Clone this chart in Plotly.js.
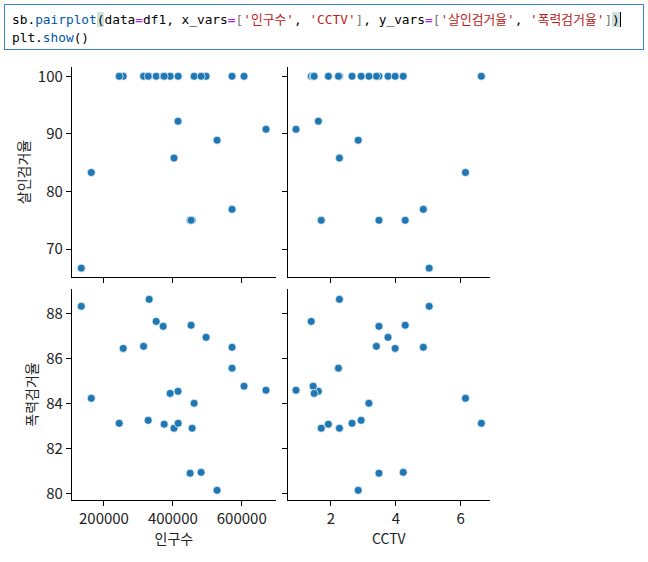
<!DOCTYPE html>
<html>
<head>
<meta charset="utf-8">
<script src="https://cdn.plot.ly/plotly-3.0.1.min.js"></script>
<style>
body{margin:0;padding:0;background:#fff;}
#wrap{position:relative;width:648px;height:562px;}
#plot{position:absolute;left:0;top:0;width:648px;height:562px;}
#code{position:absolute;left:4px;top:4px;width:640px;height:46px;border:1px solid #3b82d0;box-sizing:border-box;
 font-family:"DejaVu Sans Mono","Noto Sans CJK KR",monospace;font-size:12.8px;line-height:17.5px;padding:6px 0 0 7px;color:#000;white-space:pre;background:#fff;}
.fn{color:#0055aa;} .op{color:#aa22ff;} .st{color:#ba2121;} .br{color:#777;}
.hl{background:#cfe2df;} .cur{border-right:1.5px solid #000;}
</style>
</head>
<body>
<div id="wrap">
<div id="plot"></div>
<div id="code"><div>sb.<span class="fn">pairplot</span><span class="hl">(</span>data<span class="op">=</span>df1, x_vars<span class="op">=</span><span class="br">[</span><span class="st">'인구수'</span>, <span class="st">'CCTV'</span><span class="br">]</span>, y_vars<span class="op">=</span><span class="br">[</span><span class="st">'살인검거율'</span>, <span class="st">'폭력검거율'</span><span class="br">]</span><span class="hl cur">)</span></div><div>plt.<span class="fn">show</span>()</div></div>
</div>
<script>
// data (one entry per district)
const population = [134200,163200,670400,528400,415000,403300,571900,455900,450100,453000,
  331300,351600,371900,496500,255900,315100,571900,606700,392200,461700,244300,328400,374800,415400,482000];
const cctv = [5.03,6.15,0.92,2.84,1.61,2.26,4.85,1.70,3.48,4.29,
  2.26,1.39,3.48,3.76,3.98,3.40,2.23,1.45,1.48,3.17,2.65,2.93,1.92,6.64,4.23];
const murderRate = [66.7,83.3,90.8,88.9,92.2,85.8,76.9,75.0,75.0,75.0,
  100,100,100,100,100,100,100,100,100,100,100,100,100,100,100];
const violenceRate = [88.31,84.22,84.58,80.13,84.53,82.89,86.49,82.89,80.89,87.47,
  88.62,87.64,87.42,86.93,86.44,86.53,85.56,84.76,84.44,84.00,83.11,83.24,83.07,83.11,80.93];

const xVars = ['인구수','CCTV'];
const yVars = ['살인검거율','폭력검거율'];
const popTicks = [200000,400000,600000];
const cctvTicks = [2,4,6];
const murderTicks = [70,80,90,100];
const violTicks = [80,82,84,86,88];

const W=648,H=562;
const marker = {color:'#1f77b4',size:8,line:{color:'#ffffff',width:0.7}};
function tr(x,y,xa,ya){return {type:'scatter',mode:'markers',x:x,y:y,xaxis:xa,yaxis:ya,marker:marker,hoverinfo:'x+y',showlegend:false};}
const data=[
  tr(population,murderRate,'x','y'),
  tr(cctv,murderRate,'x2','y2'),
  tr(population,violenceRate,'x3','y3'),
  tr(cctv,violenceRate,'x4','y4')
];
const font={family:'"Noto Sans CJK KR","Noto Sans",sans-serif',size:14,color:'#222'};
const leftDom=[72/W,275.7/W], rightDom=[287.7/W,490/W];
const topDom=[1-277/H,1-67/H], botDom=[1-500/H,1-289/H];
function ax(dom,range,ticks,anchor,showLabels,title,extra){
  const a={domain:dom,range:range,tickmode:'array',tickvals:ticks,ticktext:ticks.map(String),anchor:anchor,
    showticklabels:showLabels,ticks:'outside',ticklen:5,tickwidth:1,tickcolor:'#000',showline:true,linecolor:'#000',linewidth:1.2,
    showgrid:false,zeroline:false,tickfont:{family:font.family,size:15,color:'#222'}};
  if(title) a.title={text:title,font:{family:font.family,size:14,color:'#222'},standoff:5};
  return Object.assign(a,extra||{});
}
const popRange=[107246,698551], cctvRange=[0.664,6.907], murderRange=[65.16,101.61], violRange=[79.70,89.08];
const layout={
  width:W,height:H,margin:{l:0,r:0,t:0,b:0},paper_bgcolor:'#fff',plot_bgcolor:'#fff',font:font,showlegend:false,
  xaxis: ax(leftDom,popRange,popTicks,'y',false,null),
  xaxis2:ax(rightDom,cctvRange,cctvTicks,'y2',false,null),
  xaxis3:ax(leftDom,popRange,popTicks,'y3',true,xVars[0]),
  xaxis4:ax(rightDom,cctvRange,cctvTicks,'y4',true,xVars[1]),
  yaxis: ax(topDom,murderRange,murderTicks,'x',true,yVars[0]),
  yaxis2:ax(topDom,murderRange,murderTicks,'x2',false,null),
  yaxis3:ax(botDom,violRange,violTicks,'x3',true,yVars[1]),
  yaxis4:ax(botDom,violRange,violTicks,'x4',false,null)
};
Plotly.newPlot('plot',data,layout,{staticPlot:true,displayModeBar:false});
</script>
</body>
</html>
